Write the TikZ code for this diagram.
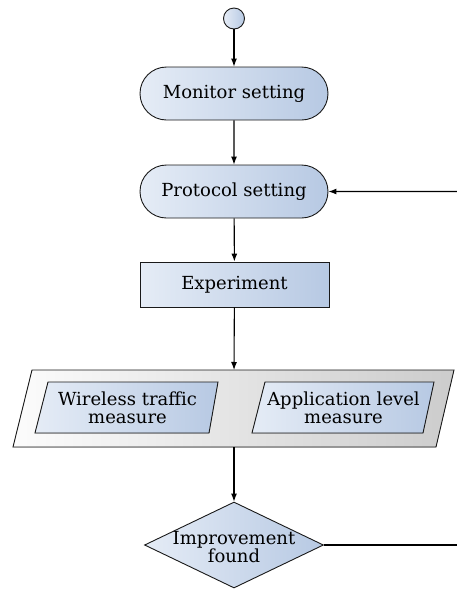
\documentclass[tikz,border=0pt]{standalone}
\usepackage{fontspec}
\setmainfont{DejaVu Serif}
\usetikzlibrary{shapes.misc,shapes.geometric,arrows.meta}
\definecolor{bl}{RGB}{229,236,246}
\definecolor{br}{RGB}{183,201,227}
\definecolor{gl}{RGB}{252,252,252}
\definecolor{gr}{RGB}{204,204,204}
\begin{document}
\begin{tikzpicture}[x=1pt,y=-1pt,
  font=\fontsize{18}{18}\selectfont,
  box/.style={draw=black!90, line width=0.9pt, left color=bl, right color=br},
  graybox/.style={draw=black!90, line width=0.9pt, left color=gl, right color=gr},
  arr/.style={-{Latex[length=8pt,width=6pt]}, line width=1.1pt},
  plain/.style={line width=1.1pt}]
\useasboundingbox (0,0) rectangle (457,590);
\node[box, circle, minimum size=21pt, inner sep=0pt] (start) at (234,18.5) {};
\node[box, rounded rectangle, minimum width=188pt, minimum height=53pt, inner sep=0pt] (mon) at (234,93.5) {Monitor setting};
\node[box, rounded rectangle, minimum width=188pt, minimum height=53pt, inner sep=0pt] (prot) at (234,191.5) {Protocol setting};
\node[box, rectangle, minimum width=189pt, minimum height=45pt, inner sep=0pt] (exp) at (234.5,284.5) {Experiment};
% measurement block
\filldraw[graybox] (32,370) -- (454,370) -- (436,447) -- (13,447) -- cycle;
\coordinate (meastop) at (234,370);
\coordinate (measbot) at (234,447);
\filldraw[box] (48,382) -- (218,382) -- (209,433) -- (35,433) -- cycle;
\node[align=center, inner sep=0pt] (wtm) at (127.5,407.5) {Wireless traffic\\measure};
\filldraw[box] (265,382) -- (434,382) -- (423,433) -- (252,433) -- cycle;
\node[align=center, inner sep=0pt] (alm) at (343.5,407.5) {Application level\\measure};
\node[box, diamond, aspect=2.08, minimum width=179pt, minimum height=86pt, inner sep=0pt] (imp) at (234,545) {};
\node[align=center, inner sep=0pt] (imptext) at (234,547) {Improvement\\found};
\coordinate (rin) at (457,191.5);
\coordinate (rout) at (457,545);
\draw[arr] (start) -- (mon);
\draw[arr] (mon) -- (prot);
\draw[arr] (prot) -- (exp);
\draw[arr] (exp) -- (meastop);
\draw[arr] (measbot) -- (imp);
\draw[arr] (rin) -- (prot);
\draw[plain] (imp) -- (rout);
\end{tikzpicture}
\end{document}
